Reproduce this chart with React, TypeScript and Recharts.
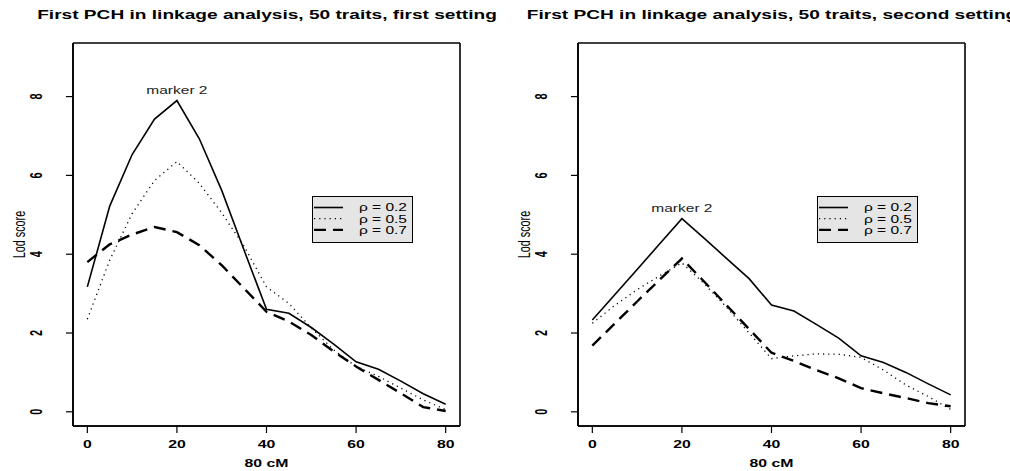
import React from 'react';
import { LineChart, Line, XAxis, YAxis, CartesianGrid, ReferenceDot, Legend } from 'recharts';

// positions along the chromosome (cM)
const positions = [0, 5, 10, 15, 20, 25, 30, 35, 40, 45, 50, 55, 60, 65, 70, 75, 80];
const xTicks = [0, 20, 40, 60, 80];
const yTicks = [0, 2, 4, 6, 8];
const rhoLabels = ['ρ = 0.2', 'ρ = 0.5', 'ρ = 0.7'];
const seriesKeys = ['rho02', 'rho05', 'rho07'];
const titles = [
  'First PCH in linkage analysis, 50 traits, first setting',
  'First PCH in linkage analysis, 50 traits, second setting',
];
const xTitle = '80 cM';
const yTitle = 'Lod score';
const markerLabel = 'marker 2';
const markerPos = 20;

// first setting
const firstRho02 = [3.17, 5.22, 6.53, 7.43, 7.9, 6.93, 5.62, 4.1, 2.6, 2.5, 2.14, 1.72, 1.27, 1.08, 0.78, 0.46, 0.19];
const firstRho05 = [2.35, 3.85, 5.03, 5.87, 6.35, 5.8, 5.05, 4.2, 3.17, 2.75, 2.13, 1.57, 1.15, 0.9, 0.6, 0.3, 0.06];
const firstRho07 = [3.8, 4.25, 4.5, 4.69, 4.56, 4.23, 3.72, 3.13, 2.54, 2.29, 1.95, 1.53, 1.15, 0.81, 0.47, 0.12, 0.02];

// second setting
const secondRho02 = [2.33, 2.97, 3.61, 4.26, 4.9, 4.4, 3.89, 3.38, 2.71, 2.56, 2.22, 1.87, 1.42, 1.25, 1.0, 0.71, 0.43];
const secondRho05 = [2.25, 2.7, 3.1, 3.45, 3.78, 3.25, 2.65, 2.0, 1.35, 1.42, 1.47, 1.46, 1.38, 1.06, 0.68, 0.39, 0.06];
const secondRho07 = [1.68, 2.24, 2.8, 3.35, 3.89, 3.3, 2.7, 2.1, 1.5, 1.29, 1.06, 0.85, 0.6, 0.47, 0.35, 0.22, 0.14];

const buildRows = (a: number[], b: number[], c: number[]) =>
  positions.map((cM, i) => ({ cM, rho02: a[i], rho05: b[i], rho07: c[i] }));

const FONT = '"Liberation Sans", Arial, Helvetica, sans-serif';
const STRETCH = 1.45;
const TICK = 7;
const TICK_GAP = 2;
const X_DOMAIN: [number, number] = [-3.2, 83.2];
const Y_DOMAIN: [number, number] = [-0.36, 9.36];
const frameLine = { stroke: '#000', strokeWidth: 1.6 };

const lineStyles = [
  { strokeWidth: 1.6, dash: undefined as string | undefined },
  { strokeWidth: 1.3, dash: '1.2 4' },
  { strokeWidth: 2.4, dash: '12 7' },
];

// tick marks are drawn together with their labels
const renderXTick = (props: any) => {
  const { x, y, payload } = props;
  return (
    <g>
      <line x1={x} x2={x} y1={y - TICK_GAP - TICK} y2={y - TICK_GAP} stroke="#000" strokeWidth={1.2} />
      <g transform={`translate(${x},${y + 13.3}) scale(${STRETCH},1)`}>
        <text textAnchor="middle" fontSize={10.9} fontWeight="bold" fontFamily={FONT} fill="#000">
          {payload.value}
        </text>
      </g>
    </g>
  );
};

const renderYTick = (props: any) => {
  const { x, y, payload } = props;
  return (
    <g>
      <line x1={x + TICK_GAP} x2={x + TICK_GAP + TICK} y1={y} y2={y} stroke="#000" strokeWidth={1.2} />
      <g transform={`translate(${x - 28},${y}) scale(${STRETCH},1) rotate(-90)`}>
        <text textAnchor="middle" dy="0.36em" fontSize={10.9} fontWeight="bold" fontFamily={FONT} fill="#000">
          {payload.value}
        </text>
      </g>
    </g>
  );
};

const renderXTitle = (props: any) => {
  const vb = props.viewBox;
  return (
    <g transform={`translate(${vb.x + vb.width / 2},${vb.y + 41}) scale(${STRETCH},1)`}>
      <text textAnchor="middle" fontSize={10.9} fontWeight="bold" fontFamily={FONT} fill="#000">
        {xTitle}
      </text>
    </g>
  );
};

const renderYTitle = (props: any) => {
  const vb = props.viewBox;
  return (
    <g transform={`translate(${vb.x + 19},${vb.y + vb.height / 2}) scale(${STRETCH},1) rotate(-90)`}>
      <text textAnchor="middle" dy="0.36em" fontSize={10.8} fontFamily={FONT} fill="#000">
        {yTitle}
      </text>
    </g>
  );
};

const renderMarker = (props: any) => {
  const vb = props.viewBox;
  return (
    <g transform={`translate(${vb.x + vb.width / 2},${vb.y + vb.height / 2 - 7}) scale(${STRETCH},1)`}>
      <text textAnchor="middle" fontSize={10.7} fontFamily={FONT} fill="#222">
        {markerLabel}
      </text>
    </g>
  );
};

const LegendBox = () => (
  <svg width={102} height={48} style={{ display: 'block' }}>
    <rect x={0.5} y={0.5} width={100} height={46} fill="#e5e5e5" stroke="#000" strokeWidth={1} />
    {rhoLabels.map((lab, i) => {
      const cy = 11.5 + i * 11.2;
      const st = lineStyles[i];
      return (
        <g key={lab}>
          <line x1={2} x2={31} y1={cy} y2={cy} stroke="#000" strokeWidth={st.strokeWidth} strokeDasharray={st.dash} />
          <text x={47} y={cy} dy="0.36em" fontSize={10.7} fontFamily={FONT} fill="#000" textLength={48} lengthAdjust="spacingAndGlyphs">
            {lab}
          </text>
        </g>
      );
    })}
  </svg>
);

// frame of the plotting region, taken from the chart's own offset
const frameRows = ({ offset }: any) => [offset.top, offset.top + offset.height];
const frameCols = ({ offset }: any) => [offset.left, offset.left + offset.width];

interface PanelProps {
  left: number;
  title: string;
  rows: { cM: number; rho02: number; rho05: number; rho07: number }[];
  peak: number;
}

const LodPanel: React.FC<PanelProps> = ({ left, title, rows, peak }) => (
  <div style={{ position: 'absolute', left, top: 0, width: 505, height: 471 }}>
    <div
      style={{
        position: 'absolute',
        left: 0,
        top: 7,
        width: 534,
        textAlign: 'center',
        whiteSpace: 'nowrap',
        fontFamily: FONT,
        fontWeight: 'bold',
        fontSize: '13.5px',
        lineHeight: '16px',
        color: '#000',
        transform: 'scaleX(1.415)',
        transformOrigin: '267px 0',
        pointerEvents: 'none',
      }}
    >
      {title}
    </div>
    <LineChart width={505} height={471} data={rows} margin={{ top: 43, right: 45, bottom: 0, left: 0 }}>
      <CartesianGrid
        fill="none"
        stroke="#000"
        strokeWidth={1.6}
        horizontalCoordinatesGenerator={frameRows}
        verticalCoordinatesGenerator={frameCols}
      />
      <XAxis
        type="number"
        dataKey="cM"
        domain={X_DOMAIN}
        ticks={xTicks}
        interval={0}
        allowDataOverflow
        axisLine={frameLine}
        tickLine={false}
        tickSize={TICK}
        tickMargin={TICK_GAP}
        tick={renderXTick}
        height={45}
        label={{ content: renderXTitle }}
      />
      <YAxis
        type="number"
        domain={Y_DOMAIN}
        ticks={yTicks}
        interval={0}
        allowDataOverflow
        axisLine={frameLine}
        tickLine={false}
        tickSize={TICK}
        tickMargin={TICK_GAP}
        tick={renderYTick}
        width={73}
        label={{ content: renderYTitle }}
      />
      {seriesKeys.map((key, i) => (
        <Line
          key={key}
          type="linear"
          dataKey={key}
          name={rhoLabels[i]}
          stroke="#000"
          strokeWidth={lineStyles[i].strokeWidth}
          strokeDasharray={lineStyles[i].dash}
          dot={false}
          activeDot={false}
          isAnimationActive={false}
        />
      ))}
      <ReferenceDot x={markerPos} y={peak} r={0} fill="none" stroke="none" label={{ content: renderMarker }} />
      <Legend
        layout="horizontal"
        verticalAlign="middle"
        align="center"
        content={() => <LegendBox />}
        wrapperStyle={{ left: 312, top: 196, width: 102, height: 48 }}
      />
    </LineChart>
  </div>
);

export default function App() {
  const firstRows = buildRows(firstRho02, firstRho05, firstRho07);
  const secondRows = buildRows(secondRho02, secondRho05, secondRho07);
  const idx = positions.indexOf(markerPos);
  return (
    <div style={{ position: 'absolute', left: 0, top: 0, width: 1010, height: 471, overflow: 'hidden', background: '#fff' }}>
      <LodPanel left={0} title={titles[0]} rows={firstRows} peak={firstRho02[idx]} />
      <LodPanel left={505} title={titles[1]} rows={secondRows} peak={secondRho02[idx]} />
    </div>
  );
}
